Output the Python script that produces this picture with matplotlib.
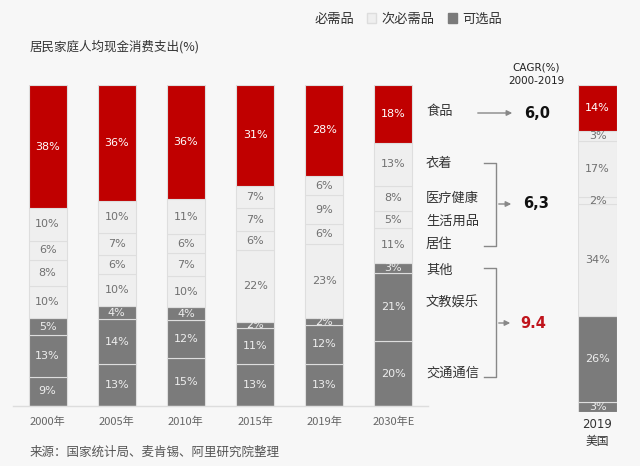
import matplotlib
matplotlib.use('Agg')
import matplotlib.pyplot as plt
from matplotlib.patches import Patch, FancyArrowPatch
from matplotlib.lines import Line2D
import numpy as np

plt.rcParams['font.family'] = ['Noto Sans CJK SC', 'DejaVu Sans']

# data (bottom -> top)
years = ['2000年', '2005年', '2010年', '2015年', '2019年', '2030年E']
transport = [9, 13, 15, 13, 13, 20]   # 交通通信
education = [13, 14, 12, 11, 12, 21]  # 文教娱乐
other = [5, 4, 4, 2, 2, 3]            # 其他
housing = [10, 10, 10, 22, 23, 11]    # 居住
daily = [8, 6, 7, 6, 6, 5]            # 生活用品
medical = [6, 7, 6, 7, 9, 8]          # 医疗健康
clothing = [10, 10, 11, 7, 6, 13]     # 衣着
food = [38, 36, 36, 31, 28, 18]       # 食品

us_values = [3, 26, 34, 2, 17, 3, 14]
us_groups = ['opt', 'opt', 'semi', 'semi', 'semi', 'semi', 'need']

cat_labels = ['食品', '衣着', '医疗健康', '生活用品', '居住', '其他', '文教娱乐', '交通通信']
cagr = ['6,0', '6,3', '9.4']

RED = '#c00000'
LIGHT = '#efefef'
DARK = '#7b7b7b'
BG = '#f7f7f7'
colors = {'need': RED, 'semi': LIGHT, 'opt': DARK}
txt_colors = {'need': 'white', 'semi': '#707070', 'opt': '#eeeeee'}

W, H = 640, 466
fig = plt.figure(figsize=(6.4, 4.66), dpi=100)
fig.patch.set_facecolor(BG)


def px(x, y):
    return x / W, 1 - y / H


num_font = dict(family='DejaVu Sans')

# main stacked bars
ax = fig.add_axes([13 / W, 60 / H, 415 / W, 321 / H])
ax.set_facecolor(BG)
series = [(transport, 'opt'), (education, 'opt'), (other, 'opt'),
          (housing, 'semi'), (daily, 'semi'), (medical, 'semi'),
          (clothing, 'semi'), (food, 'need')]
totals = np.sum([s for s, _ in series], axis=0)
x = np.arange(len(years))
bottom = np.zeros(len(years))
for vals, grp in series:
    v = np.array(vals, dtype=float)
    h = v / totals * 100
    ax.bar(x, h, 0.55, bottom=bottom, color=colors[grp],
           edgecolor='#dedede', linewidth=0.8)
    for xi, bi, hi, vi in zip(x, bottom, h, v):
        ax.text(xi, bi + hi / 2, f'{int(vi)}%', ha='center', va='center',
                fontsize=8, color=txt_colors[grp], **num_font)
    bottom += h
ax.set_xlim(-0.5, 5.5)
ax.set_ylim(0, 100)
for s in ['top', 'right', 'left']:
    ax.spines[s].set_visible(False)
ax.spines['bottom'].set_color('#dddddd')
ax.spines['bottom'].set_linewidth(1)
ax.set_yticks([])
ax.set_xticks(x)
ax.set_xticklabels(years, fontsize=8, color='#666666')
ax.tick_params(axis='x', length=0, pad=8)

# US bar
ax2 = fig.add_axes([578 / W, 54 / H, 39 / W, 327 / H])
ax2.set_facecolor(BG)
us_total = sum(us_values)
b = 0
for v, g in zip(us_values, us_groups):
    h = v / us_total * 100
    ax2.bar(0, h, 1.0, bottom=b, color=colors[g], edgecolor='#dedede', linewidth=0.8)
    ax2.text(0, b + h / 2, f'{v}%', ha='center', va='center', fontsize=8,
             color=txt_colors[g], **num_font)
    b += h
ax2.set_xlim(-0.5, 0.5)
ax2.set_ylim(0, 100)
ax2.axis('off')
fig.text(*px(597, 424), '2019', ha='center', va='center', fontsize=8.5,
         color='#333333', **num_font)
fig.text(*px(597, 442), '美国', ha='center', va='center', fontsize=8.5, color='#333333')

# title, source
fig.text(*px(30, 47), '居民家庭人均现金消费支出(%)', ha='left', va='center',
         fontsize=9, color='#333333')
fig.text(*px(30, 452), '来源：国家统计局、麦肯锡、阿里研究院整理', ha='left', va='center',
         fontsize=9, color='#555555')
fig.text(*px(536, 74), 'CAGR(%)\n2000-2019', ha='center', va='center', fontsize=7.5,
         color='#222222', linespacing=1.4, **num_font)

# legend
handles = [Patch(facecolor='none', edgecolor='none'),
           Patch(facecolor=LIGHT, edgecolor='#dddddd'),
           Patch(facecolor=DARK, edgecolor=DARK)]
fig.legend(handles, ['必需品', '次必需品', '可选品'], ncol=3, frameon=False,
           loc='center right', bbox_to_anchor=px(514, 19), fontsize=9.5,
           handlelength=0.7, handleheight=0.7, handletextpad=0.4, columnspacing=1.0,
           labelcolor='#333333')

# category labels
cat_y = [112, 163, 198, 221, 245, 270, 303, 373]
for lab, yy in zip(cat_labels, cat_y):
    fig.text(*px(426, yy), lab, ha='left', va='center', fontsize=9.5, color='#333333')

# arrows and brackets
line_c = '#888888'


def arrow(x0, x1, y):
    fig.add_artist(FancyArrowPatch(
        px(x0, y), px(x1, y), transform=fig.transFigure, arrowstyle='-|>',
        mutation_scale=8, color=line_c, lw=1))


def bracket(y0, y1):
    pts = [px(a, c) for a, c in zip([484, 496, 496, 484], [y0, y0, y1, y1])]
    fig.add_artist(Line2D([p[0] for p in pts], [p[1] for p in pts],
                          transform=fig.transFigure, color=line_c, lw=1))


arrow(475, 515, 113)
bracket(163, 246)
arrow(496, 514, 204)
bracket(268, 377)
arrow(496, 513, 323)

fig.text(*px(524, 113), cagr[0], ha='left', va='center', fontsize=10.5,
         fontweight='bold', color='#111111', **num_font)
fig.text(*px(523, 204), cagr[1], ha='left', va='center', fontsize=10.5,
         fontweight='bold', color='#111111', **num_font)
fig.text(*px(520, 323), cagr[2], ha='left', va='center', fontsize=10.5,
         fontweight='bold', color='#c0141c', **num_font)

fig.savefig('out.png', dpi=100, facecolor=BG)
